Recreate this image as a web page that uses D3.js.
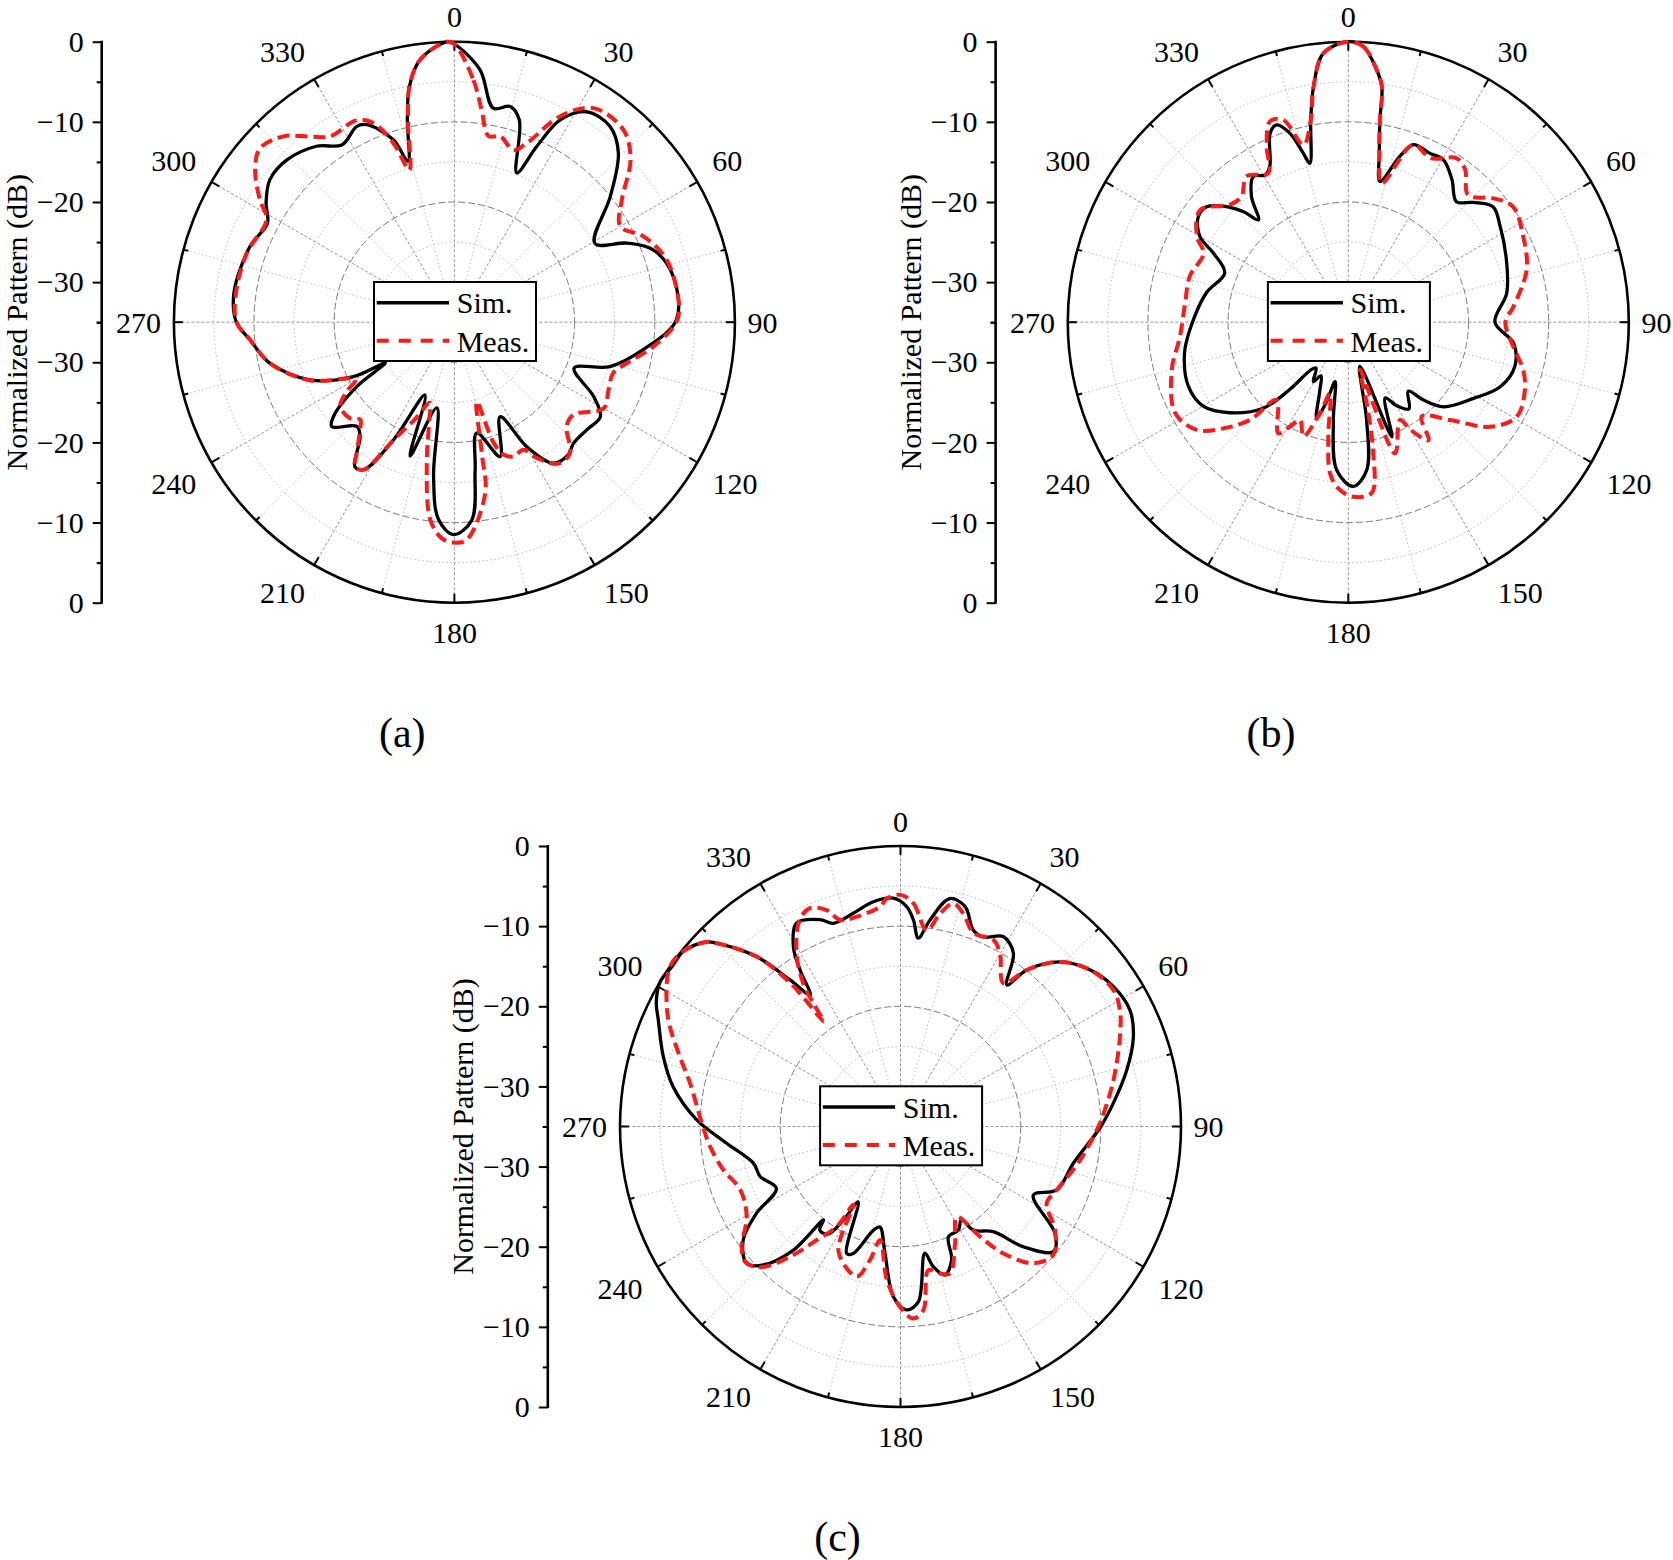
<!DOCTYPE html>
<html><head><meta charset="utf-8">
<script src="https://cdn.jsdelivr.net/npm/d3@7"></script>
<style>body{margin:0;background:#fff}svg{display:block}text{font-family:"Liberation Serif","Times New Roman",serif;fill:#000}</style>
</head><body>
<script>
// ---------- data (angle in degrees, value in dB) ----------
const angleTicks = [0,30,60,90,120,150,180,210,240,270,300,330];
const radialMajor = [0,-10,-20,-30];
const radialMinor = [-5,-15,-25,-35];
const legendLabels = ["Sim.","Meas."];
const captions = ["(a)","(b)","(c)"];

const aSimAng = [0,5.8,10.3,14.5,17.8,22.7,25.1,27.6,32.1,38.5,44.1,51.1,60.7,65.4,70,78.2,89.4,98.3,105.9,111,118.1,122.9,129,135.5,139.3,144.9,149.8,154.2,161.2,168.6,172,175,180.2,184.6,187.7,191.6,198.3,202,207.4,211.6,214.5,219.5,223.1,229.6,232.1,236.6,239.5,241.7,248.2,257.5,265.1,270,277.5,290.3,297.9,302.3,307.7,314.1,321.9,327.6,333.5,336.1,341.5,343.9,346.9,349.2,352.5,358.4];
const aSimDb  = [-0.3,-3.35,-7.85,-7.2,-8.5,-14.8,-10.8,-6.5,-4.0,-3.8,-5.6,-10.0,-14.9,-11.3,-8.6,-7.1,-7.3,-11.2,-14.8,-19.0,-15.3,-13.3,-13.7,-13.8,-13.2,-13.5,-17.0,-21.9,-17.3,-20.9,-16.4,-10.2,-8.5,-10.3,-15.6,-24.1,-17.4,-25.2,-18.4,-13.4,-13.1,-16.5,-17.2,-14.9,-15.9,-20.4,-25,-20.7,-15.6,-11.4,-9.4,-7.8,-7.25,-7.8,-8.6,-7.2,-5.9,-5.9,-7.1,-8.8,-7.7,-8.05,-11,-14.1,-9.1,-5.05,-2.0,0];
const aMeasAng = [0,4.5,7.3,10.4,13.8,18.9,22.0,27.2,33.0,41.3,47.3,53.8,60.0,65.6,73.6,85.2,90,97,103.4,107.8,113.7,120,127.9,132.9,138.6,143.7,148.8,151.6,156.3,159.7,162,164.3,168.2,169.8,176.8,180.3,183.4,187,191.1,194.4,197,202,207.4,211.6,214.5,216.7,221.2,224,227.4,233.6,237.2,239.9,248.2,257.5,265.1,270,277.6,288.4,298.6,302.2,307.4,311.8,317.4,322.1,326.2,334.2,337.9,341.2,343.5,346.9,349.2,352.5,358.4];
const aMeasDb  = [-0.3,-4.7,-8.3,-11.4,-11.1,-12.3,-10.9,-6.1,-3.15,-3.05,-5.1,-9.1,-11.1,-9.1,-7.4,-6.9,-7.3,-10.0,-12.9,-14.2,-14.0,-13.5,-16.2,-15.9,-13.2,-13.1,-15.2,-16.9,-16.7,-17.4,-19.2,-24.7,-18.3,-13.3,-7.8,-7.5,-8.0,-10.2,-17.1,-22.4,-24.5,-22,-18.4,-13.4,-13.1,-14.6,-17.1,-18.1,-17.3,-17.3,-19.0,-20.7,-15.5,-11.4,-9.4,-7.8,-7.5,-7.7,-8.3,-6.3,-3.7,-2.45,-3.5,-5.65,-7.1,-7.0,-8.2,-11.4,-15.2,-9.5,-5.05,-2.0,0];

const bSimAng = [0,3.1,6.4,8.1,8.9,10.4,12.7,17.3,20.1,25.8,30.3,36,41.9,46.2,51.4,57.8,68.5,79.6,90,97.3,104.9,113,121.3,131.6,136,139,145,150,154,159.2,165.3,169.4,172.9,178.3,184.5,188.7,192.5,195.5,198.3,202.7,207,210.5,215,218,221,224.7,232.6,239.8,248.1,259.3,268,281.6,291.7,297.1,300,305.2,309.2,312.8,316.5,318.7,322.4,326.9,330.5,333.3,337.5,340,342.8,345.1,346.4,349.5,351.6,354.7];
const bSimDb  = [0,-0.55,-3.3,-5.3,-9.5,-13.55,-17.0,-13.3,-11.4,-11.6,-11.5,-13.0,-14.8,-13.4,-11.9,-12.6,-13.8,-14.9,-16.7,-14.2,-13.5,-14.4,-16.7,-19.1,-21.5,-23.6,-21.8,-23.0,-24.5,-19.7,-29.3,-22.6,-16.4,-14.5,-16.5,-22.7,-27.4,-24.5,-22.4,-25.8,-27.5,-26.4,-28,-27.5,-23.9,-19.9,-16.4,-14.1,-13.5,-14.2,-15.3,-16.9,-18.4,-16.1,-13.6,-12.1,-12.2,-13.7,-16.0,-18.0,-15.2,-13.3,-13.9,-13.2,-9.5,-8.8,-10.3,-13.2,-14.6,-9.3,-5.3,-1.3];
const bMeasAng = [0,3.1,6.4,8.1,8.9,10.4,13.5,20.1,26.5,33.4,37.4,43.3,49.5,55,63.9,73.6,84.6,90,98.4,105.2,111,119.3,126.4,133.9,142.1,145.8,150,152.1,160.4,166.2,167.2,169.2,172.2,178.4,183.4,186.9,189.9,194.5,197.3,201.5,206.3,209.2,212.2,222.7,225.2,229.7,234.6,242.3,255,265,276.6,286.1,295.4,299.5,307.1,314.8,319.7,325.1,331.8,335.1,338.7,342.2,345.8,349.5,351.6,354.7];
const bMeasDb  = [0,-0.55,-3.3,-5.3,-9.5,-13.55,-17.2,-11.4,-12.1,-10.5,-11.0,-13.2,-11.2,-9.9,-10.7,-11.8,-14.3,-15.4,-14.2,-12.4,-11.4,-10.9,-13.0,-17.4,-20.1,-17.2,-19.5,-21.2,-17.6,-28.9,-24.6,-18.4,-13.5,-13.2,-14.2,-16.0,-20.5,-25.8,-23.1,-19.7,-21.4,-20.1,-18.6,-21.8,-17.7,-14.5,-11.8,-10.6,-12.2,-13.9,-14.5,-14.4,-15.0,-13.3,-11.8,-14.2,-14.4,-12.8,-13.9,-10.8,-8.1,-8.5,-12.2,-9.3,-5.3,-1.3];

const cSimAng = [1.6,3.6,5.4,8.1,12.2,16.4,20.3,23.6,28.4,33.1,36.9,38.9,44.1,50.5,56.7,63.1,68.9,76,83.8,90,102,112.1,117.3,124.7,129.3,134.4,138.6,144.9,146.8,150.8,156.5,159,163.3,166.8,169.1,174.2,178.1,182.4,187,191.6,194.7,200.4,203,209.3,211.4,214,217.9,219.5,220.9,224.7,228.3,234.2,238.9,243.5,250.4,255.9,264.5,272,279.9,286.4,293.7,297,301,305,309.1,313.6,314.9,319.7,323,325.5,327.3,329.2,332.9,338.7,341.7,347.5,353.1,358.2];
const cSimDb  = [-7.55,-9.2,-11.4,-9.0,-5.9,-6.4,-8.85,-9.2,-8.05,-9.2,-12.9,-9.9,-6.4,-4.3,-3.2,-2.9,-3.85,-5.9,-8.3,-10.0,-12.95,-13.95,-16.35,-11.55,-10.35,-13.55,-17.5,-19.2,-21.1,-20.2,-20.0,-17.2,-15.65,-17.0,-18.9,-13.0,-12.1,-13.75,-19.1,-22.2,-21.6,-18.1,-17.8,-24.2,-21.3,-18.8,-18.6,-19.9,-14.6,-10.7,-9.3,-10.8,-14.0,-17.7,-16.4,-16.1,-13.2,-9.5,-6.2,-4.15,-2.0,-0.8,0,-0.2,-0.2,-1.6,-2.6,-7.2,-12.1,-15.1,-11.8,-8.9,-6.5,-7.3,-8.3,-7.75,-6.75,-6.5];
const cMeasAng = [0,3.3,7.6,10.5,13.3,16.4,20.7,26.5,29.9,35.7,38.9,44.1,50.5,57.3,62,67.7,77.7,86.3,90,100.6,112.1,117.7,123.8,130,135.8,141,144.2,148.1,155,161.4,164.9,169,172.9,176.2,180.2,185.1,190.2,192.9,196.3,206.4,211,212.5,216.4,220.3,224.9,229,232.9,239.6,248.4,256.2,264,271,281.6,287.6,293.4,297.8,304.7,309.1,313.6,314.9,319.7,322.5,323.8,324.7,325.8,329,334,337.5,341.2,343.7,348.2,354.7,356.5];
const cMeasDb  = [-6.1,-7.1,-10.3,-8.0,-6.4,-7.3,-9.2,-9.0,-10.1,-13.0,-9.9,-6.4,-4.3,-3.45,-4.0,-5.4,-7.8,-9.6,-10.3,-12.2,-13.95,-14.4,-11.8,-10.1,-11.2,-14.6,-18.05,-21.7,-18.9,-15.65,-16.0,-16.75,-11.9,-11.0,-12.5,-15.8,-20.6,-17.9,-15.5,-17.6,-23.6,-20.2,-17.4,-13.7,-10.2,-9.3,-10.15,-12.75,-13.5,-12.25,-11.1,-10.2,-8.2,-6.1,-3.65,-2.0,0,-0.2,-1.6,-2.6,-7.2,-12.5,-18.8,-16.2,-13.4,-9.8,-6.3,-5.5,-6.5,-8.15,-8.25,-7.45,-6.5];

// ---------- drawing ----------
const W = 1673, H = 1560, R = 280.5, FS = 30;
const svg = d3.select("body").append("svg").attr("width", W).attr("height", H);
svg.append("rect").attr("width", W).attr("height", H).attr("fill", "#fff");

const rScale = d3.scaleLinear().domain([-35, 0]).range([0, R]);
const toPts = (ang, db) => ang.map((a, i) => ({a: a, v: db[i]}));
const radial = d3.lineRadial()
  .angle(d => d.a * Math.PI / 180)
  .radius(d => rScale(d.v))
  .curve(d3.curveCatmullRomClosed.alpha(0.5));

function panel(cx, cy, sim, meas) {
  const g = svg.append("g").attr("transform", `translate(${cx},${cy})`);
  const rad = a => a * Math.PI / 180;

  // minor spokes & rings
  d3.range(15, 360, 30).forEach(a => {
    g.append("line").attr("x1", 0).attr("y1", 0)
      .attr("x2", R * Math.sin(rad(a))).attr("y2", -R * Math.cos(rad(a)))
      .attr("stroke", "#b5b5b5").attr("stroke-width", 0.9).attr("stroke-dasharray", "1.5,2.5");
  });
  [-5, -15, -25].forEach(v => g.append("circle").attr("r", rScale(v)).attr("fill", "none")
      .attr("stroke", "#b0b0b0").attr("stroke-width", 0.9).attr("stroke-dasharray", "1.5,2.5"));
  // major spokes & rings
  d3.range(0, 360, 30).forEach(a => {
    g.append("line").attr("x1", 0).attr("y1", 0)
      .attr("x2", R * Math.sin(rad(a))).attr("y2", -R * Math.cos(rad(a)))
      .attr("stroke", "#8a8a8a").attr("stroke-width", 0.9).attr("stroke-dasharray", "3,2");
  });
  [-10, -20, -30].forEach(v => g.append("circle").attr("r", rScale(v)).attr("fill", "none")
      .attr("stroke", "#7a7a7a").attr("stroke-width", 1).attr("stroke-dasharray", "7,3"));

  // outer circle & ticks
  g.append("circle").attr("r", R).attr("fill", "none").attr("stroke", "#000").attr("stroke-width", 2.6);
  d3.range(0, 360, 15).forEach(a => {
    const len = a % 30 === 0 ? 9 : 5;
    g.append("line")
      .attr("x1", R * Math.sin(rad(a))).attr("y1", -R * Math.cos(rad(a)))
      .attr("x2", (R - len) * Math.sin(rad(a))).attr("y2", -(R - len) * Math.cos(rad(a)))
      .attr("stroke", "#000").attr("stroke-width", 2);
  });

  // curves
  g.append("path").attr("d", radial(sim)).attr("fill", "none")
    .attr("stroke", "#000").attr("stroke-width", 3.3).attr("stroke-linejoin", "round");
  g.append("path").attr("d", radial(meas)).attr("fill", "none")
    .attr("stroke", "#ff1a1a").attr("stroke-width", 4).attr("stroke-dasharray", "12,6");

  // legend
  const lg = g.append("g");
  lg.append("rect").attr("x", -80.4).attr("y", -40.2).attr("width", 162).attr("height", 79)
    .attr("fill", "#fff").attr("stroke", "#000").attr("stroke-width", 2);
  lg.append("line").attr("x1", -77.7).attr("x2", -5.4).attr("y1", -19.5).attr("y2", -19.5)
    .attr("stroke", "#000").attr("stroke-width", 3.6);
  lg.append("line").attr("x1", -77.7).attr("x2", -5.4).attr("y1", 18.5).attr("y2", 18.5)
    .attr("stroke", "#ff1a1a").attr("stroke-width", 4).attr("stroke-dasharray", "12,10");
  lg.append("text").attr("x", 2.3).attr("y", -9).attr("font-size", FS).text(legendLabels[0]);
  lg.append("text").attr("x", 2.3).attr("y", 29.5).attr("font-size", FS).text(legendLabels[1]);

  // angle labels: nearest corner of the label box lies just outside the circle
  angleTicks.forEach(a => {
    const s = Math.sin(rad(a)), c = Math.cos(rad(a));
    const sx = Math.abs(s) < 1e-6 ? 0 : Math.sign(s);
    const sy = Math.abs(c) < 1e-6 ? 0 : Math.sign(c);
    const hw = String(a).length * 15.6 / 2, hh = 13;
    const rc = sy === 0 ? R + 12 : R + 16.5;
    let x = rc * s + sx * hw;
    let y = -rc * c - sy * hh;
    if (a === 0) y += 4.5;
    g.append("text").attr("x", x).attr("y", y)
      .attr("text-anchor", "middle").attr("dy", "0.35em").attr("font-size", FS).text(a);
  });

  // radial axis (left)
  const ax = g.append("g").attr("transform", "translate(-352.7,0)");
  const topS = d3.scaleLinear().domain([-35, 0]).range([0, -R]);
  const botS = d3.scaleLinear().domain([-35, 0]).range([0, R]);
  [topS, botS].forEach(s => {
    const major = ax.append("g").call(d3.axisLeft(s).tickValues(radialMajor).tickSize(9).tickPadding(9).tickFormat(d3.format("d")));
    const minor = ax.append("g").call(d3.axisLeft(s).tickValues(radialMinor).tickSize(5).tickFormat(""));
    [major, minor].forEach(m => {
      m.select(".domain").remove();
      m.selectAll("line").attr("stroke", "#000").attr("stroke-width", 2);
      m.selectAll("text").attr("font-size", FS).attr("font-family", '"Liberation Serif", serif').attr("fill", "#000");
    });
  });
  ax.append("line").attr("x1", 0).attr("x2", 0).attr("y1", -R - 1).attr("y2", R + 1)
    .attr("stroke", "#000").attr("stroke-width", 2.6);
  g.append("text").attr("transform", `translate(-438,0) rotate(-90)`)
    .attr("text-anchor", "middle").attr("dy", "0.35em").attr("font-size", FS)
    .text("Normalized Pattern (dB)");
}

panel(454.4, 322.2, toPts(aSimAng, aSimDb), toPts(aMeasAng, aMeasDb));
panel(1348.3, 322.2, toPts(bSimAng, bSimDb), toPts(bMeasAng, bMeasDb));
panel(900.5, 1126.5, toPts(cSimAng, cSimDb), toPts(cMeasAng, cMeasDb));

const capPos = [[402.3, 732], [1271, 732], [837.5, 1536.5]];
captions.forEach((c, i) => {
  svg.append("text").attr("x", capPos[i][0]).attr("y", capPos[i][1])
    .attr("text-anchor", "middle").attr("dy", "0.35em").attr("font-size", 42).text(c);
});
</script>
</body></html>
